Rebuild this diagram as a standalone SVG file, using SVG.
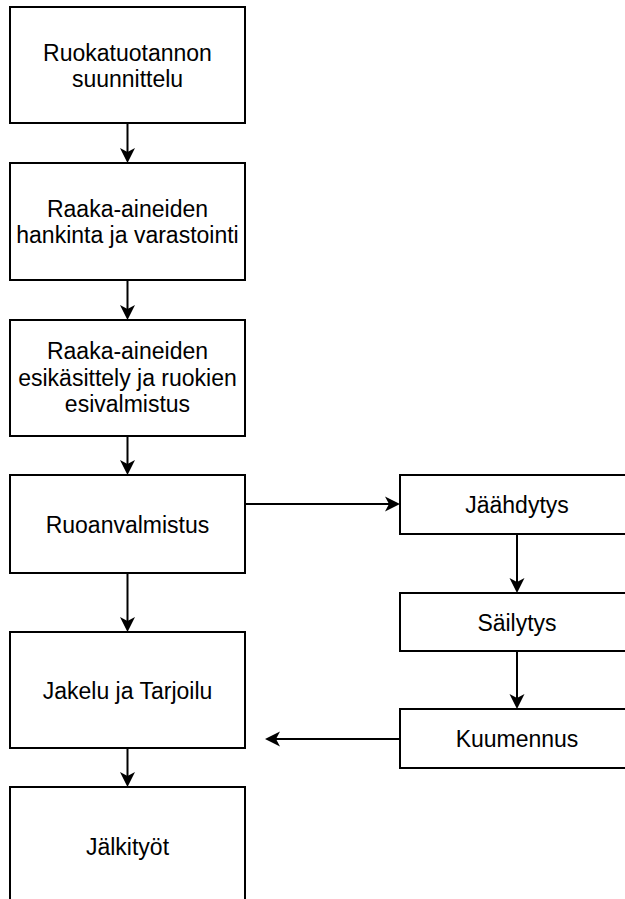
<svg xmlns="http://www.w3.org/2000/svg" width="625" height="899" viewBox="0 0 625 899">
<defs>
<marker id="arr" markerUnits="userSpaceOnUse" markerWidth="16" markerHeight="16" refX="11" refY="7.5" orient="auto" overflow="visible">
<path d="M0,0 L15,7.5 L0,15 L4,7.5 Z" fill="#000" stroke="none"/>
</marker>
<style>
.box{fill:#fff;stroke:#000;stroke-width:2}
.lbl{font-family:"Liberation Sans",Arial,sans-serif;font-size:23px;fill:#000;text-anchor:middle}
.edge{fill:none;stroke:#000;stroke-width:2;marker-end:url(#arr)}
</style>
</defs>
<rect width="625" height="899" fill="#fff"/>
<g id="connectors">
<path class="edge" d="M127.5,123 L127.5,159"/>
<path class="edge" d="M127.5,280 L127.5,316"/>
<path class="edge" d="M127.5,436 L127.5,471"/>
<path class="edge" d="M127.5,573 L127.5,628"/>
<path class="edge" d="M127.5,748 L127.5,783"/>
<path class="edge" d="M245,504 L396,504"/>
<path class="edge" d="M517,534 L517,589"/>
<path class="edge" d="M517,651 L517,705"/>
<path class="edge" d="M400,739 L269,739"/>
</g>
<g id="n1">
<rect class="box" x="10" y="7" width="235" height="116"/>
<text class="lbl" x="127.5" y="60.5">Ruokatuotannon</text>
<text class="lbl" x="127.5" y="87">suunnittelu</text>
</g>
<g id="n2">
<rect class="box" x="10" y="163" width="235" height="117"/>
<text class="lbl" x="127.5" y="216.5">Raaka-aineiden</text>
<text class="lbl" x="127.5" y="243">hankinta ja varastointi</text>
</g>
<g id="n3">
<rect class="box" x="10" y="320" width="235" height="116"/>
<text class="lbl" x="127.5" y="359">Raaka-aineiden</text>
<text class="lbl" x="127.5" y="385.5">esikäsittely ja ruokien</text>
<text class="lbl" x="127.5" y="412">esivalmistus</text>
</g>
<g id="n4">
<rect class="box" x="10" y="475" width="235" height="98"/>
<text class="lbl" x="127.5" y="533">Ruoanvalmistus</text>
</g>
<g id="n5">
<rect class="box" x="10" y="632" width="235" height="116"/>
<text class="lbl" x="127.5" y="699">Jakelu ja Tarjoilu</text>
</g>
<g id="n6">
<rect class="box" x="10" y="787" width="235" height="118"/>
<text class="lbl" x="127.5" y="855">Jälkityöt</text>
</g>
<g id="n7">
<rect class="box" x="400" y="475" width="235" height="59"/>
<text class="lbl" x="517" y="513">Jäähdytys</text>
</g>
<g id="n8">
<rect class="box" x="400" y="593" width="235" height="58"/>
<text class="lbl" x="517" y="631">Säilytys</text>
</g>
<g id="n9">
<rect class="box" x="400" y="709" width="235" height="59"/>
<text class="lbl" x="517" y="747">Kuumennus</text>
</g>
</svg>
